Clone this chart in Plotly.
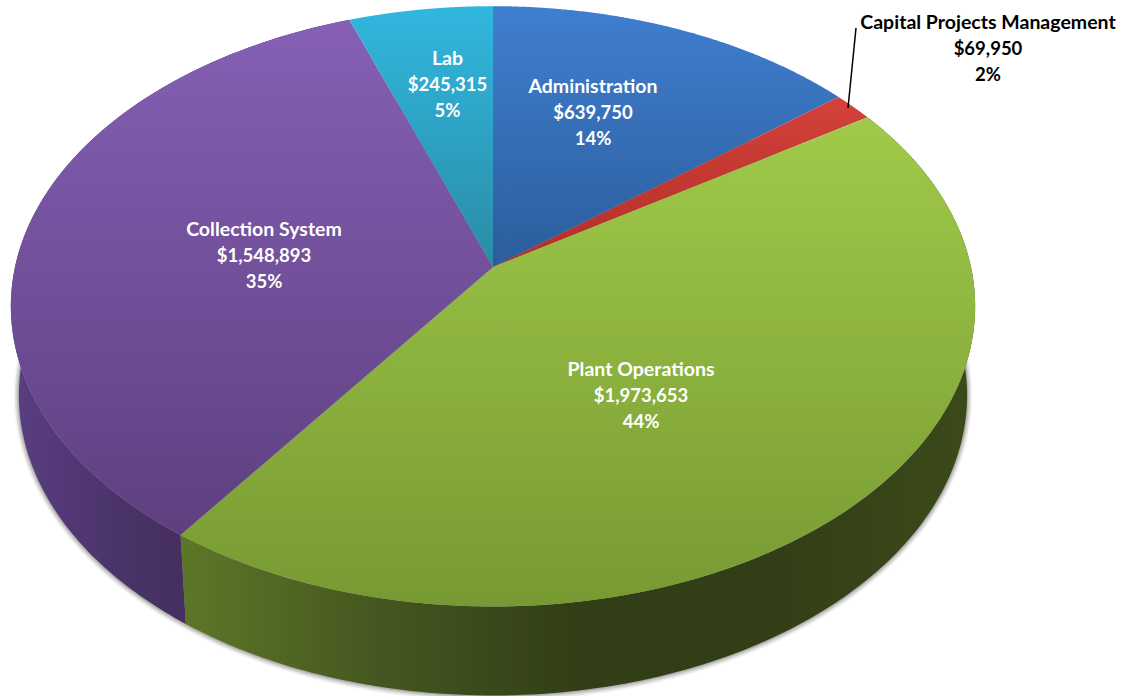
import numpy as np
import plotly.graph_objects as go

# Department budgets, clockwise from twelve o'clock
departments = ["Administration", "Capital Projects Management", "Plant Operations", "Collection System", "Lab"]
budgets = [639750, 69950, 1973653, 1548893, 245315]

# Top-face gradient per slice: (upper colour, lower colour, gradient start y, gradient stop y)
face_styles = [
    ("#3f7fd0", "#2c5d9b", 5, 267),
    ("#d3413a", "#b02e28", 100, 267),
    ("#a0ca49", "#779933", 120, 608),
    ("#8560b5", "#5e3f7f", 22, 537),
    ("#31b7df", "#2a8ca6", 5, 267),
]
# Wall gradient per slice, left to right; None where the wall faces away
wall_styles = [
    None,
    None,
    ("#5c7628", "#445620", "#323e16", "#323e16", "#3c4a1a", 188, 970),
    ("#583e7e", "#503774", "#493266", "#452f5e", 20, 188),
    None,
]
label_colors = ["white", "black", "white", "white", "white"]
label_x = [593, 988, 641, 264, 447.5]
label_y = [88, 24, 371, 231, 60]
LINE_STEP = 26
NAME_SIZE, VALUE_SIZE = 19.5, 18.5

# Perspective projection of the pie disc
CX = 493
TOP_CY, TOP_A, TOP_B = 267, 478, 295
BOT_CY, BOT_A, BOT_B = 356, 470, 295
K = 0.131


def project(theta, cy, a, b):
    w = 1 + K * np.cos(theta)
    return CX + a * np.sin(theta) / w, cy - b * np.cos(theta) / w


total = sum(budgets)
edges = 2 * np.pi * np.cumsum([0] + budgets) / total

fig = go.Figure()

# Soft drop shadow hugging the lower rim
ring = np.linspace(0, 2 * np.pi, 361)
for grow, alpha in [(5, 0.05), (4, 0.07), (3, 0.09), (2, 0.12), (1, 0.16)]:
    sx, sy = project(ring, BOT_CY, BOT_A + grow, BOT_B + grow)
    fig.add_trace(go.Scatter(x=sx, y=sy, mode="none", fill="toself",
                             fillcolor=f"rgba(60,60,60,{alpha})", hoverinfo="skip"))

# Outer walls
for i, style in enumerate(wall_styles):
    if style is None:
        continue
    t = np.linspace(edges[i], edges[i + 1], 160)
    tx, ty = project(t, TOP_CY, TOP_A, TOP_B)
    bx, by = project(t[::-1], BOT_CY, BOT_A, BOT_B)
    *stops, start, stop = style
    scale = [[j / (len(stops) - 1), c] for j, c in enumerate(stops)]
    fig.add_trace(go.Scatter(
        x=np.r_[tx, bx, tx[0]], y=np.r_[ty, by, ty[0]], mode="none", fill="toself",
        fillgradient=dict(type="horizontal", colorscale=scale, start=start, stop=stop),
        hoverinfo="skip"))

# Top faces
for i, (upper, lower, start, stop) in enumerate(face_styles):
    t = np.linspace(edges[i], edges[i + 1], 200)
    rx, ry = project(t, TOP_CY, TOP_A, TOP_B)
    fig.add_trace(go.Scatter(
        x=np.r_[CX, rx, CX], y=np.r_[TOP_CY, ry, TOP_CY], mode="none", fill="toself",
        fillgradient=dict(type="vertical", colorscale=[[0, upper], [1, lower]], start=start, stop=stop),
        name=departments[i], hoverinfo="name"))

# Leader line for the narrow slice
fig.add_trace(go.Scatter(x=[856, 848], y=[28, 108], mode="lines",
                         line=dict(color="black", width=1.5), hoverinfo="skip"))

# Three-line labels: name, amount, share
for i, name in enumerate(departments):
    lines = [name, f"${budgets[i]:,}", f"{budgets[i] / total:.0%}"]
    fig.add_trace(go.Scatter(
        x=[label_x[i]] * 3, y=[label_y[i] + n * LINE_STEP for n in range(3)],
        mode="text", text=[f"<b>{s}</b>" for s in lines], textposition="middle center",
        textfont=dict(family="Lato", size=[NAME_SIZE, VALUE_SIZE, VALUE_SIZE], color=label_colors[i]),
        hoverinfo="skip"))

fig.update_layout(
    width=1132, height=696, margin=dict(l=0, r=0, t=0, b=0),
    paper_bgcolor="white", plot_bgcolor="white", showlegend=False,
    xaxis=dict(range=[0, 1132], visible=False, fixedrange=True),
    yaxis=dict(range=[696, 0], visible=False, fixedrange=True),
)
fig.write_html("out.html", config={"displayModeBar": False})
